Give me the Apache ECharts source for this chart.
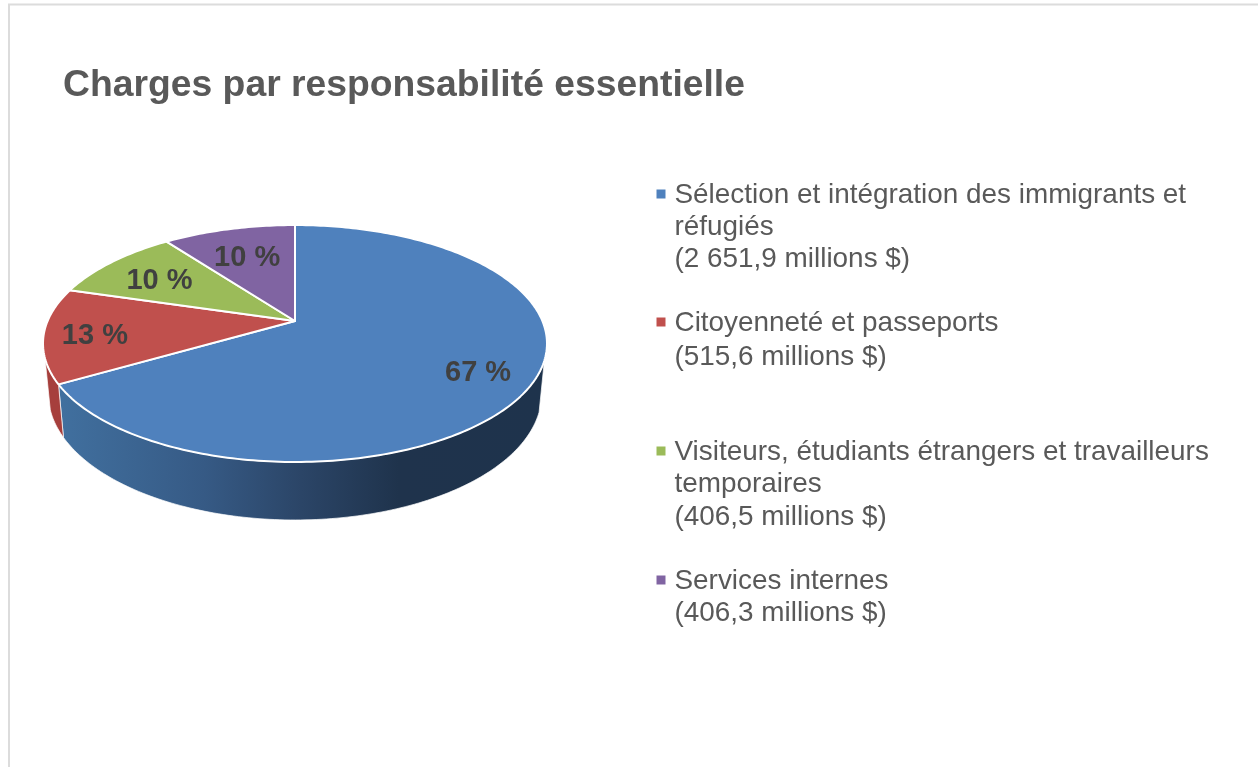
<!DOCTYPE html>
<html lang="fr">
<head>
<meta charset="utf-8">
<title>Charges par responsabilité essentielle</title>
<style>
  html, body { margin: 0; padding: 0; background: #fff; }
  #chart { width: 1258px; height: 767px; }
</style>
<script src="https://cdn.jsdelivr.net/npm/echarts@6/dist/echarts.min.js"></script>
</head>
<body>
<div id="chart"></div>
<script>
// Expenses in millions of dollars, per core responsibility
const categories = [
  ['Sélection et intégration des immigrants et', 'réfugiés'],
  ['Citoyenneté et passeports'],
  ['Visiteurs, étudiants étrangers et travailleurs', 'temporaires'],
  ['Services internes']
];
const expenses = [2651.9, 515.6, 406.5, 406.3];
const amountLabels = ['2 651,9', '515,6', '406,5', '406,3'];
const topColors = ['#4f81bd', '#c0504d', '#9bbb59', '#8064a2'];
const titleText = 'Charges par responsabilité essentielle';

// Fraction of the radius at which each percentage label sits
const labelRadius = [0.79, 0.80, 0.72, 0.69];

// Legend layout
const legendTop = [195, 323, 452, 581];
const legendLineGap = [32, 34, 32.5, 32];

// Perspective disc: pivot, horizontal and vertical scale, tilt factor
const CX = 295, CY = 321, D = 247.4, A = 114.2, TILT = -0.19;
const total = expenses.reduce((s, v) => s + v, 0);
const DEG = Math.PI / 180;

// Project a point of the unit disc (angle clockwise from 12 o'clock)
function rim(deg, r) {
  const u = r * Math.sin(deg * DEG), v = -r * Math.cos(deg * DEG);
  const k = 1 + TILT * v;
  return [CX + D * u / k, CY + A * v / k];
}
// Same point on the lower face of the disc
function lowerRim(deg) {
  const p = rim(deg, 1);
  return [CX + 0.979 * (p[0] - CX), p[1] + 53 + 0.064 * (p[1] - 384)];
}
function arcPoints(from, to, fn) {
  const pts = [];
  const n = Math.max(2, Math.ceil(Math.abs(to - from)));
  for (let i = 0; i <= n; i++) pts.push(fn(from + (to - from) * i / n));
  return pts;
}

const WALL_START = 109, WALL_END = 252;
const blueWall = new echarts.graphic.LinearGradient(58, 0, 545, 0, [
  { offset: 0, color: '#41709f' },
  { offset: 0.3, color: '#365a85' },
  { offset: 0.5, color: '#2b4567' },
  { offset: 0.7, color: '#1f334c' },
  { offset: 1, color: '#1e334c' }
], true);
const wallFills = [blueWall, '#a63f3c', '#7c9647', '#664f82'];

function renderSlice(params, api) {
  const i = params.dataIndex;
  let before = 0;
  for (let k = 0; k < i; k++) before += expenses[k];
  const start = before / total * 360;
  const end = start + api.value(0) / total * 360;
  const children = [];

  // Side wall, only where the slice faces the viewer
  const a = Math.max(start, WALL_START), b = Math.min(end, WALL_END);
  if (b > a) {
    const wall = arcPoints(a, b, d => rim(d, 1)).concat(arcPoints(b, a, lowerRim));
    children.push({
      type: 'polygon',
      shape: { points: wall },
      style: { fill: wallFills[i], stroke: 'rgba(255,255,255,0.7)', lineWidth: 1 }
    });
  }

  // Top face
  children.push({
    type: 'polygon',
    shape: { points: [[CX, CY]].concat(arcPoints(start, end, d => rim(d, 1))) },
    style: { fill: topColors[i], stroke: '#ffffff', lineWidth: 2, lineJoin: 'round' }
  });

  // Percentage label
  const mid = rim((start + end) / 2, labelRadius[i]);
  children.push({
    type: 'text',
    z2: 10,
    style: {
      x: mid[0], y: mid[1] + 3.5,
      text: Math.round(api.value(0) / total * 100) + ' %',
      font: 'bold 29px "Liberation Sans", Arial, sans-serif',
      fill: '#404040',
      align: 'center',
      verticalAlign: 'middle'
    }
  });
  return { type: 'group', children };
}

// Legend markers and text
const legendGraphics = [];
categories.forEach((lines, i) => {
  legendGraphics.push({
    type: 'rect',
    shape: { x: 656.5, y: legendTop[i] - 5.5, width: 9, height: 9 },
    style: { fill: topColors[i] }
  });
  lines.concat(['(' + amountLabels[i] + ' millions $)']).forEach((line, j) => {
    legendGraphics.push({
      type: 'text',
      style: {
        x: 674.5,
        y: legendTop[i] + j * legendLineGap[i],
        text: line,
        font: '27.9px "Liberation Sans", Arial, sans-serif',
        fill: '#595959',
        verticalAlign: 'middle'
      }
    });
  });
});

const chart = echarts.init(document.getElementById('chart'), null, { renderer: 'canvas' });
chart.setOption({
  animation: false,
  backgroundColor: '#ffffff',
  title: {
    text: titleText,
    left: 63,
    top: 67,
    padding: 0,
    textStyle: {
      fontFamily: '"Liberation Sans", Arial, sans-serif',
      fontWeight: 'bold',
      fontSize: 37.3,
      color: '#595959'
    }
  },
  graphic: [
    {
      type: 'rect',
      z: -1,
      shape: { x: 9, y: 4.5, width: 1400, height: 900 },
      style: { fill: 'none', stroke: '#dcdcdc', lineWidth: 2 }
    }
  ].concat(legendGraphics),
  series: [{
    type: 'custom',
    coordinateSystem: 'none',
    silent: true,
    renderItem: renderSlice,
    data: expenses.map(v => [v])
  }]
});
</script>
</body>
</html>
